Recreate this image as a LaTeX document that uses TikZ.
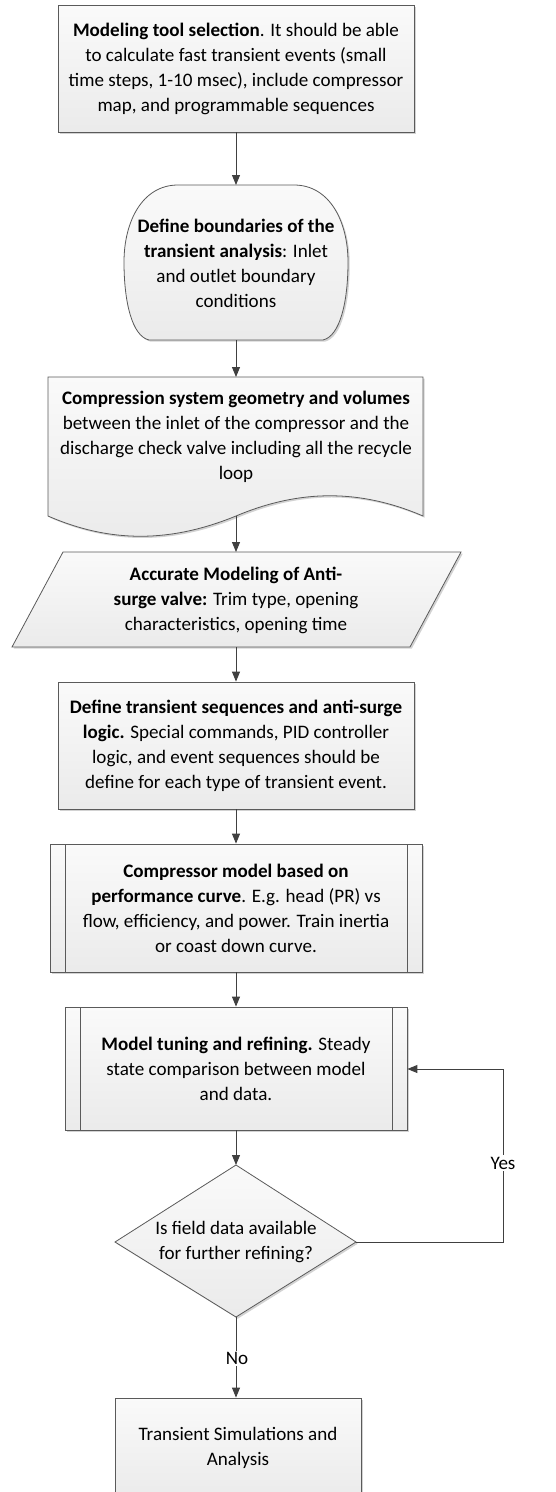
\documentclass[tikz,border=0pt]{standalone}
\usepackage{fontspec}
\setmainfont{Carlito}
\usetikzlibrary{shadows,arrows.meta}
\definecolor{edge}{HTML}{5A5A5A}
\definecolor{arr}{HTML}{404040}
\tikzset{
  x=0.75pt, y=-0.75pt,
  shp/.style={draw=edge, line width=0.6pt, top color=black!2, bottom color=black!8,
    drop shadow={shadow xshift=1.3pt, shadow yshift=-1.3pt, fill=black!35, opacity=0.5}},
  txt/.style={align=center, inner sep=0pt, font=\fontsize{14.3}{18.75}\selectfont},
  boxnode/.style={shp, txt, rectangle},
  conn/.style={draw=arr, line width=0.7pt, -{Triangle[length=7.5pt, width=6pt]}},
  lbl/.style={txt, fill=white, inner sep=1pt},
}
\begin{document}
\begin{tikzpicture}
\useasboundingbox (0,0) rectangle (556,1492);
\clip (0,0) rectangle (556,1492);

% 1
\node[boxnode, minimum width=356*0.75pt, minimum height=127*0.75pt] (b1) at (236,68.5)
 {\textbf{Modeling tool selection}. It should be able\\ to calculate fast transient events (small\\ time steps, 1-10 msec), include compressor\\ map, and programmable sequences};

% 2 rounded shape
\path[shp] (178,185) -- (294,185) .. controls (330,185) and (348,222) .. (348,262)
  .. controls (348,302) and (340,336) .. (323,340) -- (149,340)
  .. controls (132,336) and (124,302) .. (124,262)
  .. controls (124,222) and (142,185) .. (178,185) -- cycle;
\node[txt] (b2) at (236,263)
 {\textbf{Define boundaries of the}\\ \textbf{transient analysis}: Inlet\\ and outlet boundary\\ conditions};
\coordinate (b2t) at (236,185);
\coordinate (b2b) at (236,340);

% 3 document shape
\path[shp] (48,377) -- (423,377) -- (423,516)
  .. controls (360,489) and (300,489) .. (236,516)
  .. controls (170,543) and (110,543) .. (48,516) -- cycle;
\node[txt] (b3) at (236,437)
 {\textbf{Compression system geometry and volumes}\\ between the inlet of the compressor and the\\ discharge check valve including all the recycle\\ loop};
\coordinate (b3t) at (236,377);
\coordinate (b3b) at (236,516);

% 4 parallelogram
\path[shp] (63,552) -- (461,552) -- (410,647) -- (12,647) -- cycle;
\node[txt] (b4) at (236,600.5)
 {\textbf{Accurate Modeling of Anti-}\\ \textbf{surge valve:} Trim type, opening\\ characteristics, opening time};
\coordinate (b4t) at (236,552);
\coordinate (b4b) at (236,647);

% 5
\node[boxnode, minimum width=356*0.75pt, minimum height=127*0.75pt] (b5) at (236,745.5)
 {\textbf{Define transient sequences and anti-surge}\\ \textbf{logic.} Special commands, PID controller\\ logic, and event sequences should be\\ define for each type of transient event.};

% 6 predefined process
\node[boxnode, minimum width=372*0.75pt, minimum height=128*0.75pt] (b6) at (236,908)
 {\textbf{Compressor model based on}\\ \textbf{performance curve}. E.g. head (PR) vs\\ flow, efficiency, and power. Train inertia\\ or coast down curve.};
\draw[draw=edge, line width=0.6pt] (65,844) -- (65,972) (407,844) -- (407,972);

% 7 predefined process
\node[boxnode, minimum width=342*0.75pt, minimum height=123*0.75pt] (b7) at (236,1068.5)
 {\textbf{Model tuning and refining.} Steady\\ state comparison between model\\ and data.};
\draw[draw=edge, line width=0.6pt] (80,1007) -- (80,1130) (392,1007) -- (392,1130);

% 8 diamond
\path[shp] (236,1165) -- (356,1242) -- (236,1317) -- (115,1242) -- cycle;
\node[txt] (b8) at (236,1242) {Is field data available\\ for further refining?};
\coordinate (b8t) at (236,1165);
\coordinate (b8b) at (236,1317);
\coordinate (b8r) at (356,1242);

% 9
\node[boxnode, minimum width=246*0.75pt, minimum height=100*0.75pt] (b9) at (238,1448)
 {Transient Simulations and\\ Analysis};

% connectors
\draw[conn] (b1.south) -- (b2t);
\draw[conn] (b2b) -- (b3t);
\draw[conn] (b3b) -- (b4t);
\draw[conn] (b4b) -- (b5.north);
\draw[conn] (b5.south) -- (b6.north);
\draw[conn] (b6.south) -- (b7.north);
\draw[conn] (b7.south) -- (b8t);
\coordinate (yr) at (503,1242);
\coordinate (yt) at (503,1069);
\draw[conn] (b8r) -- (yr) -- (yt) -- (b7.east |- yt);
\node[lbl] (yes) at (503,1163) {Yes};
\draw[conn] (b8b) -- (b9.north -| b8b);
\node[lbl] (no) at (237,1358) {No};
\end{tikzpicture}
\end{document}
